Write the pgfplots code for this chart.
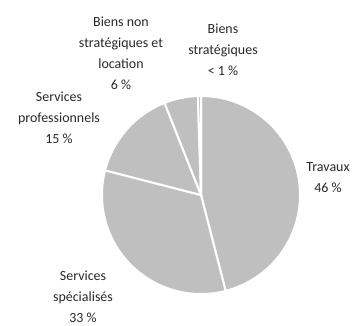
\documentclass[border=0pt]{standalone}
\usepackage{fontspec}
\setmainfont{Carlito}
\usepackage{pgfplots}
\pgfplotsset{compat=1.18}
\definecolor{piegray}{RGB}{191,191,191}
\definecolor{txt}{RGB}{40,40,40}
% shares in percent, clockwise from 12 o'clock
\def\pTrav{46}
\def\pSpec{33}
\def\pProf{15}
\def\pNon{5.5}
\def\pStrat{0.5}
\begin{document}
\begin{tikzpicture}
\pgfmathsetmacro{\aA}{90}
\pgfmathsetmacro{\aB}{\aA-3.6*\pTrav}
\pgfmathsetmacro{\aC}{\aB-3.6*\pSpec}
\pgfmathsetmacro{\aD}{\aC-3.6*\pProf}
\pgfmathsetmacro{\aE}{\aD-3.6*\pNon}
\pgfmathsetmacro{\aF}{\aE-3.6*\pStrat}
\begin{axis}[
  hide axis, scale only axis, width=354bp, height=326bp,
  xmin=0, xmax=354, ymin=0, ymax=326, clip=false,
  trig format plots=deg,
]
\path (rel axis cs:0,0) rectangle (rel axis cs:1,1);
\pgfplotsset{slice/.style={fill=piegray, draw=white, line width=2bp, samples=80, smooth}}
\addplot[slice, domain=\aB:\aA] ({201+99*cos(x)},{131+99*sin(x)}) -- (axis cs:201,131) -- cycle;
\addplot[slice, domain=\aC:\aB] ({201+99*cos(x)},{131+99*sin(x)}) -- (axis cs:201,131) -- cycle;
\addplot[slice, domain=\aD:\aC] ({201+99*cos(x)},{131+99*sin(x)}) -- (axis cs:201,131) -- cycle;
\addplot[slice, domain=\aE:\aD] ({201+99*cos(x)},{131+99*sin(x)}) -- (axis cs:201,131) -- cycle;
\addplot[slice, domain=\aF:\aE, samples=10] ({201+99*cos(x)},{131+99*sin(x)}) -- (axis cs:201,131) -- cycle;
\tikzset{lbl/.style={align=center, text=txt, font=\fontsize{14}{21}\selectfont, inner sep=0pt}}
\node[lbl] at (axis cs:121,273) {Biens non\\stratégiques et\\location\\6~\%};
\node[lbl] at (axis cs:223,276) {Biens\\stratégiques\\<~1~\%};
\node[lbl] at (axis cs:59,208) {Services\\professionnels\\15~\%};
\node[lbl] at (axis cs:328,148) {Travaux\\46~\%};
\node[lbl] at (axis cs:83,29) {Services\\spécialisés\\33~\%};
\end{axis}
\end{tikzpicture}
\end{document}
